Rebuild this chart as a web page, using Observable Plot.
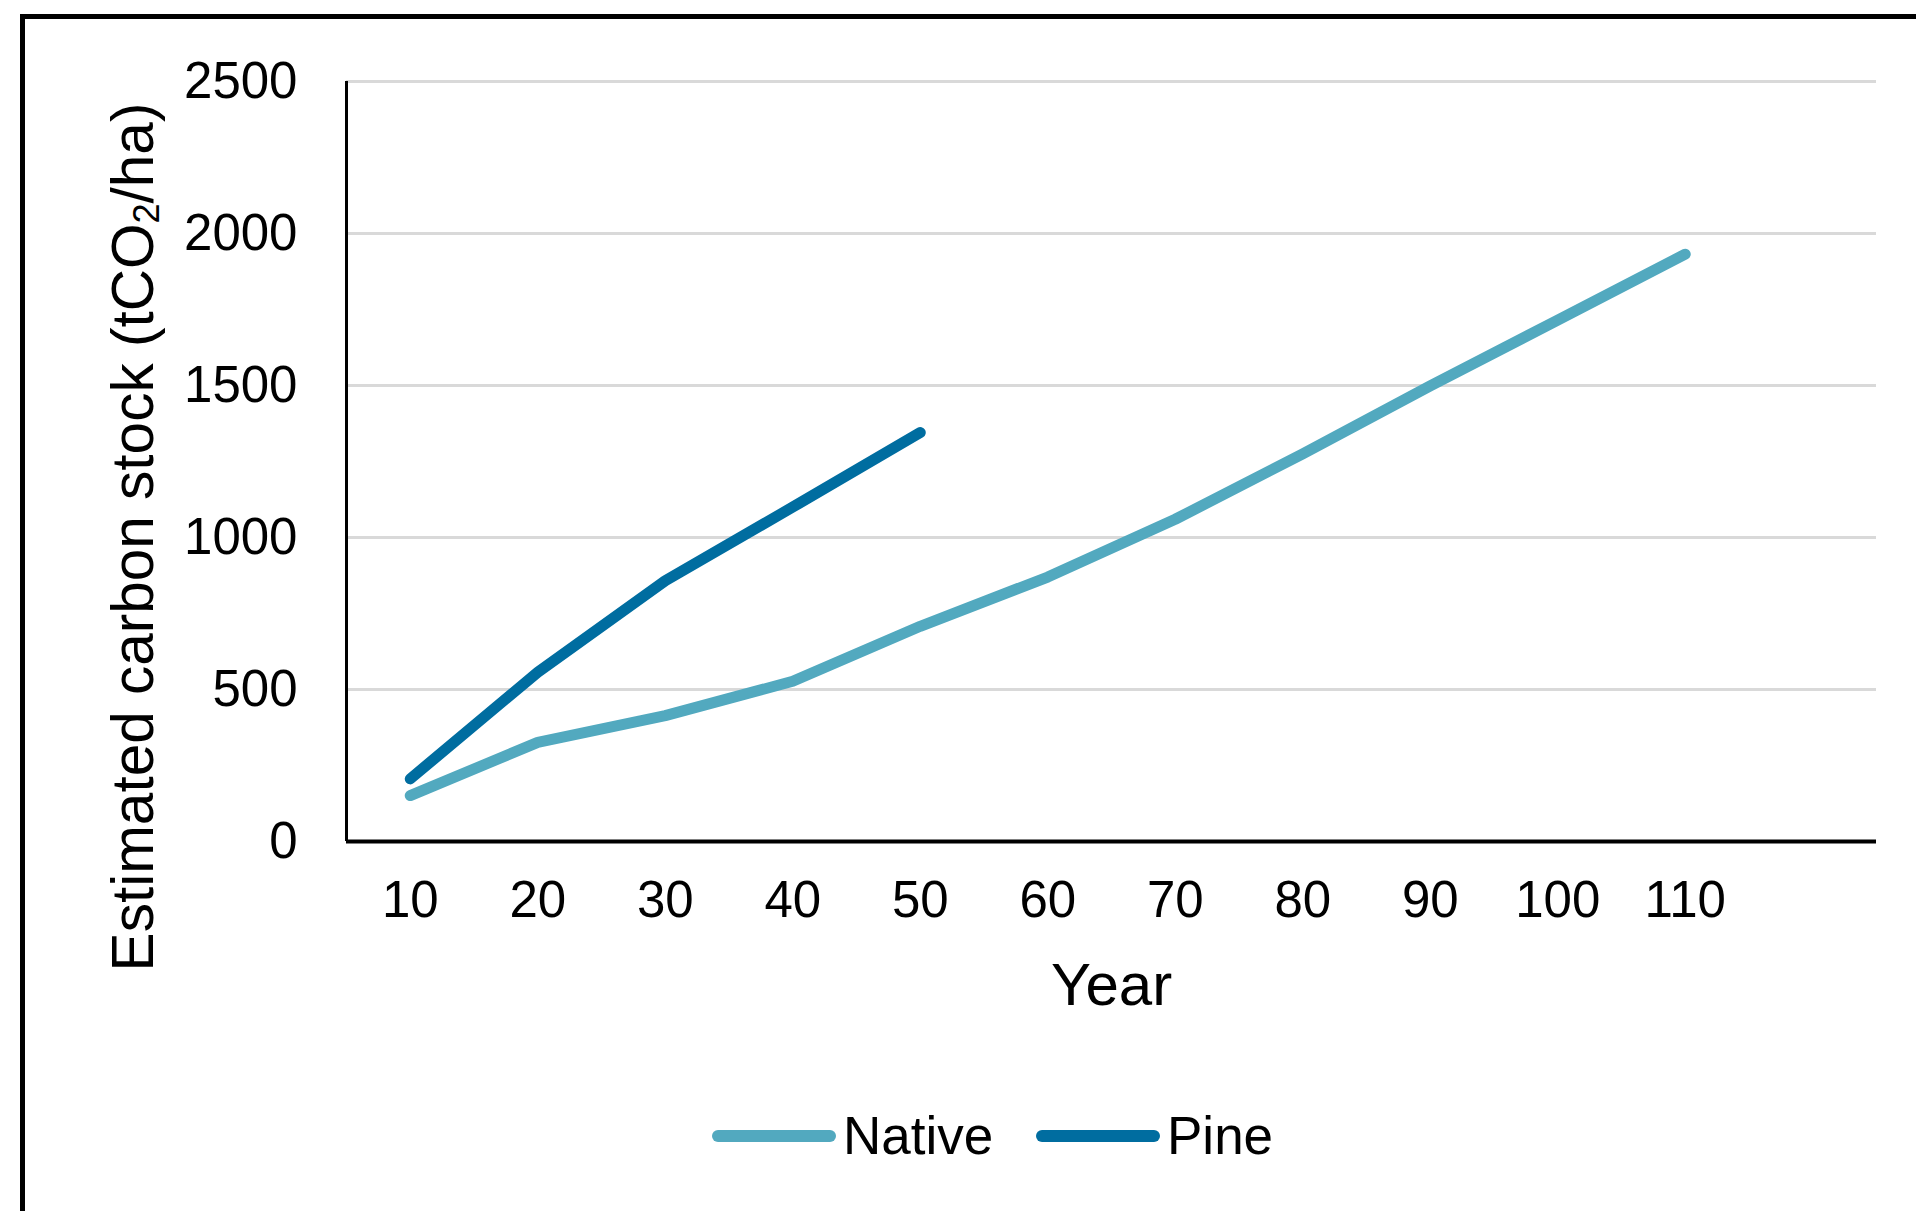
<!DOCTYPE html>
<html>
<head>
<meta charset="utf-8">
<script src="https://cdn.jsdelivr.net/npm/d3@7"></script>
<script src="https://cdn.jsdelivr.net/npm/@observablehq/plot@0.6"></script>
<style>
  html, body { margin: 0; padding: 0; background: #fff; overflow: hidden; }
  body { width: 1916px; height: 1211px; position: relative; font-family: "Liberation Sans", Arial, sans-serif; color: #000; }
  #frame { position: absolute; left: 20px; top: 14px; width: 2100px; height: 1400px; border: 5px solid #000; box-sizing: border-box; }
  #chart { position: absolute; left: 0; top: 0; }
  #ytitle { position: absolute; left: 133px; top: 537px; transform: translate(-50%, -50%) rotate(-90deg); white-space: nowrap; font-size: 58.5px; line-height: 1; }
  #ytitle sub { font-size: 0.62em; vertical-align: -0.18em; line-height: 0; }
  #legend { position: absolute; left: 0; top: 0; }
  .sw { position: absolute; height: 12px; border-radius: 6px; top: 1130px; }
  .lt { position: absolute; font-size: 53px; line-height: 1; top: 1109px; white-space: nowrap; }
</style>
</head>
<body>
<div id="frame"></div>
<div id="chart"></div>
<div id="ytitle">Estimated carbon stock (tCO<sub>2</sub>/ha)</div>
<div id="legend"></div>
<script>
// ---- data ----
const years = [10, 20, 30, 40, 50, 60, 70, 80, 90, 100, 110];
const nativeValues = [151, 326, 414, 527, 708, 870, 1060, 1275, 1499, 1715, 1932];
const pineYears = [10, 20, 30, 40, 50];
const pineValues = [206, 557, 858, 1100, 1345];
const seriesNames = ["Native", "Pine"];
const seriesColors = ["#52a9bf", "#006da0"];
const xTickLabels = years;
const yTickLabels = [0, 500, 1000, 1500, 2000, 2500];

const rows = [
  ...years.map((yr, i) => ({series: "Native", year: yr, value: nativeValues[i]})),
  ...pineYears.map((yr, i) => ({series: "Pine", year: yr, value: pineValues[i]}))
];

const chart = Plot.plot({
  width: 1916,
  height: 1211,
  marginLeft: 346,
  marginRight: 40,
  marginTop: 81,
  marginBottom: 370,
  style: {fontFamily: "'Liberation Sans', Arial, sans-serif", fontSize: "51px", color: "#000", background: "transparent", overflow: "visible"},
  x: {domain: [5, 125]},
  y: {domain: [0, 2500]},
  color: {domain: seriesNames, range: seriesColors},
  marks: [
    Plot.gridY(yTickLabels.filter(d => d > 0), {stroke: "#d9d9d9", strokeOpacity: 1, strokeWidth: 3}),
    Plot.ruleX([5], {y1: 0, y2: 2500, stroke: "#000", strokeWidth: 3}),
    Plot.ruleY([0], {stroke: "#000", strokeWidth: 4}),
    Plot.axisY({ticks: yTickLabels, tickSize: 0, tickPadding: 49, label: null, fontSize: 51, tickFormat: d => String(d)}),
    Plot.axisX({ticks: xTickLabels, tickSize: 0, tickPadding: 39, label: null, fontSize: 51, tickFormat: d => String(d)}),
    Plot.text(["Year"], {frameAnchor: "bottom", lineAnchor: "top", dy: 121, fontSize: 60}),
    Plot.line(rows, {x: "year", y: "value", z: "series", stroke: "series", strokeWidth: 11, strokeLinecap: "round", strokeLinejoin: "round"})
  ]
});
document.getElementById("chart").appendChild(chart);

// ---- legend ----
const legend = document.getElementById("legend");
const legendPos = [{sw: 712, tx: 843}, {sw: 1036, tx: 1167}];
seriesNames.forEach((name, i) => {
  const s = document.createElement("div");
  s.className = "sw";
  s.style.left = legendPos[i].sw + "px";
  s.style.width = "124px";
  s.style.background = seriesColors[i];
  legend.appendChild(s);
  const t = document.createElement("div");
  t.className = "lt";
  t.style.left = legendPos[i].tx + "px";
  t.textContent = name;
  legend.appendChild(t);
});
</script>
</body>
</html>
